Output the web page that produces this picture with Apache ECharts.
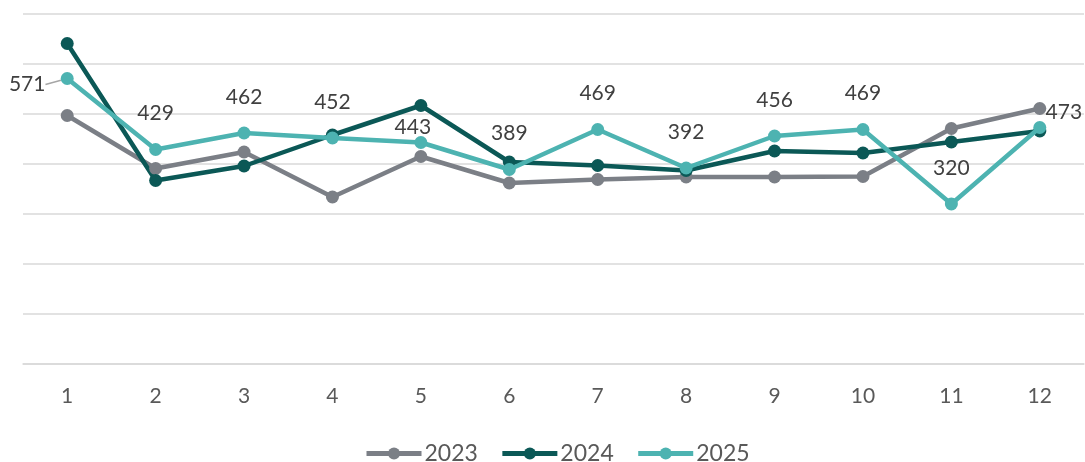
<!DOCTYPE html>
<html>
<head>
<meta charset="utf-8">
<script src="https://cdn.jsdelivr.net/npm/echarts@6/dist/echarts.min.js"></script>
<style>
html,body{margin:0;padding:0;background:#fff;}
#chart{width:1085px;height:462px;}
</style>
</head>
<body>
<div id="chart"></div>
<script>
const categories = ['1','2','3','4','5','6','7','8','9','10','11','12'];
const seriesNames = ['2023','2024','2025'];
const values2023 = [497, 391, 424, 334, 415, 362, 369, 374, 374, 375, 471, 511];
const values2024 = [641, 367, 396, 458, 517, 404, 397, 387, 426, 422, 444, 466];
const values2025 = [571, 429, 462, 452, 443, 389, 469, 392, 456, 469, 320, 473];
const colors = ['#7b7f86', '#0b5856', '#4db3b1'];

const chart = echarts.init(document.getElementById('chart'));
const font = 'Lato, "Open Sans", sans-serif';

function mkSeries(name, data, color, withLabels) {
  const s = {
    name: name,
    type: 'line',
    data: data,
    symbol: 'circle',
    symbolSize: 13,
    lineStyle: { width: 4.5, color: color },
    itemStyle: { color: color },
    z: 2
  };
  if (withLabels) {
    s.data = data.map(function (v, i) {
      return i === 0 ? { value: v, labelLine: { show: true } } : { value: v, labelLine: { show: false } };
    });
    s.label = {
      show: true,
      position: 'top',
      distance: 19,
      color: '#404040',
      fontSize: 21,
      fontFamily: font
    };
    s.labelLine = { show: false, lineStyle: { color: '#a6a6a6', width: 1.5 } };
    s.labelLayout = function (p) {
      if (p.dataIndex === 0) return { dx: -40, dy: 42 };
      if (p.dataIndex === 4) return { dx: -8, dy: 21 };
      if (p.dataIndex === 11) return { dx: 24, dy: 21 };
      return {};
    };
    s.z = 3;
  }
  return s;
}

chart.setOption({
  animation: false,
  color: colors,
  grid: { left: 23, right: 1, top: 14, bottom: 98, containLabel: false },
  legend: {
    top: 437,
    left: 359,
    itemWidth: 55,
    itemHeight: 15,
    itemGap: 22,
    lineStyle: { width: 5 },
    textStyle: { color: '#595959', fontSize: 23, fontFamily: font, padding: [0, 0, 0, -2] },
    data: seriesNames
  },
  xAxis: {
    type: 'category',
    data: categories,
    boundaryGap: true,
    axisLine: { show: true, lineStyle: { color: '#d9d9d9', width: 1.5 } },
    axisTick: { show: false },
    axisLabel: { color: '#595959', fontSize: 21, fontFamily: font, margin: 22 }
  },
  yAxis: {
    type: 'value',
    min: 0,
    max: 700,
    interval: 100,
    axisLabel: { show: false },
    axisLine: { show: false },
    axisTick: { show: false },
    splitLine: { lineStyle: { color: '#d9d9d9', width: 1.5 } }
  },
  series: [
    mkSeries(seriesNames[0], values2023, colors[0], false),
    mkSeries(seriesNames[1], values2024, colors[1], false),
    mkSeries(seriesNames[2], values2025, colors[2], true)
  ]
});
</script>
</body>
</html>
